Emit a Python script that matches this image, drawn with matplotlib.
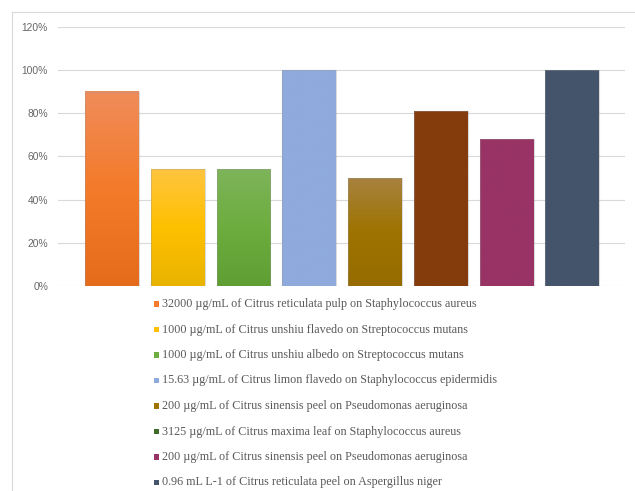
import numpy as np
import matplotlib
matplotlib.use("Agg")
import matplotlib.pyplot as plt
from matplotlib.colors import LinearSegmentedColormap
from matplotlib.lines import Line2D
from matplotlib.patches import Rectangle

labels = [
    "32000 µg/mL of Citrus reticulata pulp on Staphylococcus aureus",
    "1000 µg/mL of Citrus unshiu flavedo on Streptococcus mutans",
    "1000 µg/mL of Citrus unshiu albedo on Streptococcus mutans",
    "15.63 µg/mL of Citrus limon flavedo on Staphylococcus epidermidis",
    "200 µg/mL of Citrus sinensis peel on Pseudomonas aeruginosa",
    "3125 µg/mL of Citrus maxima leaf on Staphylococcus aureus",
    "200 µg/mL of Citrus sinensis peel on Pseudomonas aeruginosa",
    "0.96 mL L-1 of Citrus reticulata peel on Aspergillus niger",
]
values = [0.90, 0.54, 0.54, 1.00, 0.50, 0.81, 0.68, 1.00]
# gradient stops (top, middle, bottom)
bar_grad = [
    ("#F08C5A", "#F37B2A", "#E46C1A"),
    ("#FEC53F", "#FFC000", "#E8B400"),
    ("#7EB45A", "#6DAD3F", "#5E9E33"),
    ("#8FAADC", "#8FAADC", "#8FAADC"),
    ("#A8823E", "#9E7300", "#966C00"),
    ("#843C0C", "#843C0C", "#843C0C"),
    ("#993366", "#993366", "#993366"),
    ("#44546A", "#44546A", "#44546A"),
]
legend_colors = ["#F37B2A", "#FFC000", "#6DAD3F", "#8FAADC",
                 "#9E7300", "#3E6B28", "#993366", "#44546A"]
yticks = [0, 0.2, 0.4, 0.6, 0.8, 1.0, 1.2]
ytick_labels = ["0%", "20%", "40%", "60%", "80%", "100%", "120%"]

W, H = 635, 491
fig = plt.figure(figsize=(W / 100, H / 100), dpi=100)
ax = fig.add_axes([58 / W, (H - 286) / H, (625 - 58) / W, (286 - 27) / H])

x = np.arange(len(values))
bw = 0.82
for xi, v, (ct, cm, cb) in zip(x, values, bar_grad):
    cmap = LinearSegmentedColormap.from_list("g", [cb, cm, ct])
    grad = np.linspace(0, 1, 256).reshape(-1, 1)
    ax.imshow(grad, cmap=cmap, origin="lower", aspect="auto",
              extent=[xi - bw / 2, xi + bw / 2, 0, v], zorder=2,
              interpolation="bilinear")
ax.bar(x, values, width=bw, facecolor="none", edgecolor=(0.6, 0.6, 0.6, 0.35),
       linewidth=0.8, zorder=3)

ax.set_xlim(-0.82, 7.80)
ax.set_ylim(0, 1.2)
ax.set_yticks(yticks)
ax.set_yticklabels(ytick_labels, fontfamily="Liberation Sans", fontsize=7.4,
                   color="#666666")
ax.set_xticks([])
ax.tick_params(axis="y", length=0, pad=7.2)
ax.yaxis.grid(True, color="#D9D9D9", linewidth=0.8, zorder=0)
ax.set_axisbelow(True)
for s in ax.spines.values():
    s.set_visible(False)

# legend
for i, (lab, c) in enumerate(zip(labels, legend_colors)):
    yc = 304 + i * 25.5
    fig.patches.append(Rectangle((154 / W, 1 - (yc + 2.6) / H), 5.2 / W, 5.2 / H,
                                 transform=fig.transFigure, facecolor=c,
                                 edgecolor="none"))
    fig.text(162 / W, 1 - yc / H, lab, fontfamily="Liberation Serif",
             fontsize=8.75, color="#595959", va="center", ha="left")

# outer chart border
fig.add_artist(Line2D([12 / W, 1], [1 - 12 / H, 1 - 12 / H], color="#D9D9D9",
                      linewidth=0.8, transform=fig.transFigure))
fig.add_artist(Line2D([12 / W, 12 / W], [0, 1 - 12 / H], color="#D9D9D9",
                      linewidth=0.8, transform=fig.transFigure))

fig.savefig("out.png", dpi=100)
